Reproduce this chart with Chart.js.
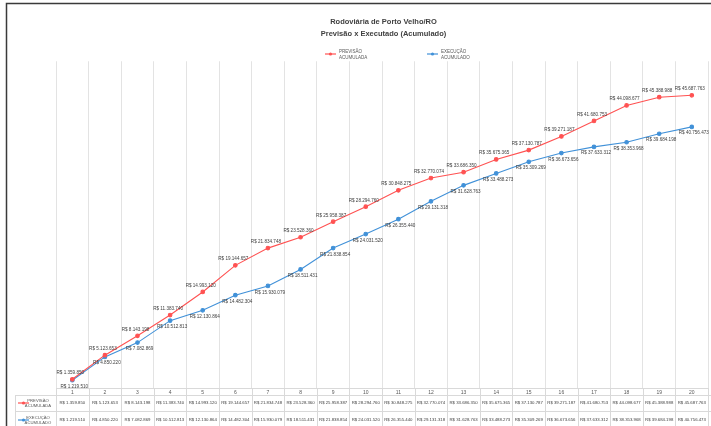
<!DOCTYPE html>
<html>
<head>
<meta charset="utf-8">
<script src="https://cdn.jsdelivr.net/npm/chart.js@4/dist/chart.umd.min.js"></script>
<style>
  html, body { margin: 0; padding: 0; background: #ffffff; }
  #wrap { width: 711px; height: 426px; }
</style>
</head>
<body>
<div id="wrap"><canvas id="c" width="711" height="426"></canvas></div>
<script>
// Etapas da obra (medições) e valores acumulados em R$
const etapas = ['1','2','3','4','5','6','7','8','9','10','11','12','13','14','15','16','17','18','19','20'];
const previsaoAcumulada = [1359850, 5123653, 8143198, 11383740, 14993120, 19144657, 21834748, 23528360, 25958387, 28294760,
  30848275, 32770074, 33686350, 35675365, 37130787, 39271187, 41680753, 44098677, 45388988, 45687763];
const execucaoAcumulada = [1219510, 4850220, 7082869, 10512813, 12130864, 14482304, 15930079, 18511431, 21838854, 24031520,
  26355440, 29131318, 31628763, 33488273, 35309269, 36673656, 37633312, 38353968, 39684198, 40756473];
const tituloLinhas = ['Rodoviária de Porto Velho/RO', 'Previsão x Executado (Acumulado)'];
const nomesSeries = [['PREVISÃO', 'ACUMULADA'], ['EXECUÇÃO', 'ACUMULADO']];

const RED = '#ff5252';
const BLUE = '#4191d8';
const FONT = '"Liberation Sans", Arial, sans-serif';
const TXT = '#404040';

function reais(v) {
  return 'R$ ' + Math.round(v).toString().replace(/\B(?=(\d{3})+(?!\d))/g, '.');
}

// moldura: fundo branco e bordas superior/esquerda
const moldura = {
  id: 'moldura',
  beforeDraw(chart) {
    const ctx = chart.ctx;
    ctx.save();
    ctx.fillStyle = '#ffffff';
    ctx.fillRect(0, 0, chart.width, chart.height);
    ctx.strokeStyle = '#3a3a3a';
    ctx.lineWidth = 1.5;
    ctx.beginPath();
    ctx.moveTo(6.5, chart.height);
    ctx.lineTo(6.5, 3.5);
    ctx.lineTo(chart.width, 3.5);
    ctx.stroke();
    ctx.restore();
  }
};

// rótulos de valor em cada ponto: previsão acima, execução abaixo
const rotulosValores = {
  id: 'rotulosValores',
  afterDatasetsDraw(chart) {
    const ctx = chart.ctx;
    ctx.save();
    ctx.font = '4.6px ' + FONT;
    ctx.fillStyle = TXT;
    ctx.textAlign = 'center';
    chart.data.datasets.forEach((ds, di) => {
      const meta = chart.getDatasetMeta(di);
      meta.data.forEach((pt, i) => {
        const txt = reais(ds.data[i]);
        if (di === 0) {
          ctx.textBaseline = 'bottom';
          ctx.fillText(txt, pt.x - 2, pt.y - 4);
        } else {
          ctx.textBaseline = 'top';
          ctx.fillText(txt, pt.x + 2, pt.y + 4);
        }
      });
    });
    ctx.restore();
  }
};

function chaveSerie(ctx, x, y, cor) {
  ctx.strokeStyle = cor;
  ctx.lineWidth = 1.2;
  ctx.beginPath();
  ctx.moveTo(x, y);
  ctx.lineTo(x + 11, y);
  ctx.stroke();
  ctx.fillStyle = cor;
  ctx.beginPath();
  ctx.arc(x + 5.5, y, 1.6, 0, Math.PI * 2);
  ctx.fill();
}

// legenda das séries abaixo do título
const legendaSeries = {
  id: 'legendaSeries',
  afterDraw(chart) {
    const ctx = chart.ctx;
    ctx.save();
    const itens = [{ x: 325, cor: RED }, { x: 427, cor: BLUE }];
    itens.forEach((it, k) => {
      chaveSerie(ctx, it.x, 54, it.cor);
      ctx.font = '4.5px ' + FONT;
      ctx.fillStyle = '#595959';
      ctx.textAlign = 'left';
      ctx.textBaseline = 'middle';
      ctx.fillText(nomesSeries[k][0], it.x + 14, 51.5);
      ctx.fillText(nomesSeries[k][1], it.x + 14, 57.5);
    });
    ctx.restore();
  }
};

// tabela de dados sob o eixo das etapas
const tabelaDados = {
  id: 'tabelaDados',
  afterDraw(chart) {
    const ctx = chart.ctx;
    const xs = chart.scales.x;
    const area = chart.chartArea;
    const H = chart.height;
    const passo = xs.getPixelForValue(1) - xs.getPixelForValue(0);
    const topo = area.bottom + 7;
    const meio = topo + 16;
    const esq = 15;
    ctx.save();
    ctx.strokeStyle = '#d9d9d9';
    ctx.lineWidth = 1;
    ctx.beginPath();
    ctx.moveTo(esq, topo + 0.5); ctx.lineTo(chart.width, topo + 0.5);
    ctx.moveTo(esq, meio + 0.5); ctx.lineTo(chart.width, meio + 0.5);
    ctx.moveTo(esq + 0.5, topo); ctx.lineTo(esq + 0.5, H);
    for (let i = 0; i <= etapas.length; i++) {
      const bx = Math.round(xs.getPixelForValue(0) - passo / 2 + i * passo) + 0.5;
      ctx.moveTo(bx, area.bottom); ctx.lineTo(bx, H);
    }
    ctx.stroke();

    const linhas = [
      { y: topo + 8, dados: previsaoAcumulada, cor: RED, nome: nomesSeries[0] },
      { y: meio + 9, dados: execucaoAcumulada, cor: BLUE, nome: nomesSeries[1] }
    ];
    linhas.forEach(l => {
      chaveSerie(ctx, esq + 3, l.y, l.cor);
      ctx.font = '4.2px ' + FONT;
      ctx.fillStyle = '#595959';
      ctx.textAlign = 'center';
      ctx.textBaseline = 'middle';
      ctx.fillText(l.nome[0], 38, l.y - 2.5);
      ctx.fillText(l.nome[1], 38, l.y + 3);
      ctx.font = '4.3px ' + FONT;
      ctx.fillStyle = TXT;
      l.dados.forEach((v, i) => {
        ctx.fillText(reais(v), xs.getPixelForValue(i), l.y);
      });
    });
    ctx.restore();
  }
};

new Chart(document.getElementById('c'), {
  type: 'line',
  data: {
    labels: etapas,
    datasets: [
      {
        label: nomesSeries[0].join(' '),
        data: previsaoAcumulada,
        borderColor: RED,
        backgroundColor: RED,
        borderWidth: 1.1,
        pointRadius: 1.8,
        pointHoverRadius: 1.8,
        tension: 0
      },
      {
        label: nomesSeries[1].join(' '),
        data: execucaoAcumulada,
        borderColor: BLUE,
        backgroundColor: BLUE,
        borderWidth: 1.1,
        pointRadius: 1.8,
        pointHoverRadius: 1.8,
        tension: 0
      }
    ]
  },
  options: {
    responsive: false,
    animation: false,
    devicePixelRatio: 1,
    layout: { padding: { left: 56, right: 0, top: 0, bottom: 28 } },
    plugins: {
      legend: { display: false },
      tooltip: { enabled: false },
      title: {
        display: true,
        text: tituloLinhas,
        color: TXT,
        font: { family: FONT, size: 7.5, weight: 'bold', lineHeight: 1.55 },
        padding: { top: 16, bottom: 22 }
      }
    },
    scales: {
      x: {
        offset: true,
        grid: { color: '#e3e3e3', offset: true, drawTicks: false },
        border: { color: '#d9d9d9' },
        ticks: { color: '#595959', font: { family: FONT, size: 5 }, padding: 2, maxRotation: 0, autoSkip: false }
      },
      y: {
        display: false,
        min: 0,
        max: 51000000
      }
    }
  },
  plugins: [moldura, rotulosValores, legendaSeries, tabelaDados]
});
</script>
</body>
</html>
